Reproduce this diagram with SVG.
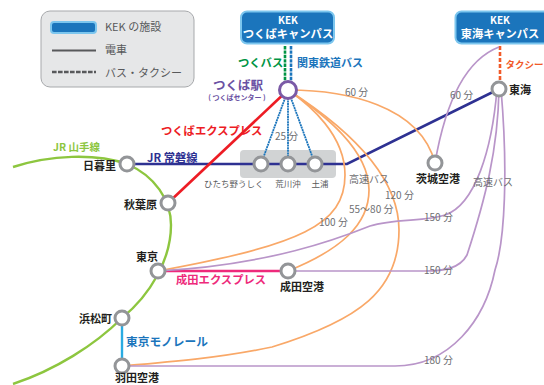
<svg xmlns="http://www.w3.org/2000/svg" width="544" height="385" viewBox="0 0 544 385">
<style>
text{font-family:"Noto Sans CJK JP","Noto Sans",sans-serif}
.st{fill:#fff;stroke:#939598;stroke-width:3}
.o{fill:none;stroke:#f9a868;stroke-width:1.7}
.p{fill:none;stroke:#b995c9;stroke-width:1.7}
.b{fill:none;stroke:#1b75bc;stroke-width:1.8;stroke-dasharray:2 .6}
.t{font-size:10px;fill:#6d6e71}
.s{font-size:8.5px;fill:#58595b}
.n{font-size:11px;font-weight:700;fill:#231f20}
.k{fill:#1b75bc;stroke:#7cc6ee;stroke-width:2}
.w{font-weight:700;fill:#fff;text-anchor:middle}
.l{font-size:11px;fill:#58595b}
</style>
<g id="legend">
<rect x="41" y="11" width="153" height="76" rx="9" fill="#e6e7e8" stroke="#a7a9ac"/>
<rect x="51" y="22" width="45" height="11" rx="3" class="k"/>
<line x1="52" y1="50.500" x2="96" y2="50.500" stroke="#58595b" stroke-width="2"/>
<line x1="52" y1="72" x2="96" y2="72" stroke="#58595b" stroke-width="2.400" stroke-dasharray="4.600 1.400"/>
<text x="105" y="31" class="l">KEK の施設</text>
<text x="105" y="54" class="l">電車</text>
<text x="105" y="77" class="l">バス・タクシー</text>
</g>
<rect id="ekiBand" x="240" y="150" width="96" height="28" rx="4" fill="#d1d3d4"/>
<g id="connectors">
<path d="M13 167C50 155 95 153 127 164C155 176 171 200 171 225C171 260 150 295 122 318C95 345 55 370 13 384" fill="none" stroke="#8dc63f" stroke-width="2.400"/>
<path d="M127 164H347L499 89" fill="none" stroke="#2e3192" stroke-width="2.600"/>
<line x1="168" y1="203" x2="288" y2="90" stroke="#ed1c24" stroke-width="2.600"/>
<line x1="158" y1="271" x2="288" y2="271" stroke="#ee2a7b" stroke-width="2.400"/>
<line x1="122" y1="318" x2="122" y2="366" stroke="#29abe2" stroke-width="2.400"/>
<line x1="285" y1="46" x2="285" y2="82" stroke="#009444" stroke-width="2.600" stroke-dasharray="3.400 1"/>
<line x1="291" y1="46" x2="291" y2="82" stroke="#1b75bc" stroke-width="2.600" stroke-dasharray="3.400 1"/>
<line x1="500" y1="46" x2="500" y2="82" stroke="#f15a29" stroke-width="2.600" stroke-dasharray="4 2"/>
<path class="b" d="M288 90L261 164M288 90V164M288 90L315 164"/>
<path class="o" d="M288 90C345 90 420 105 435 163"/>
<path class="o" d="M288 90C310 105 345 135 345 175C345 225 300 245 158 271"/>
<path class="o" d="M288 90C325 115 369 150 369 190C369 225 340 250 288 271"/>
<path class="o" d="M288 90C335 120 399 170 399 230C399 290 360 320 272 347C220 358 170 362 122 366"/>
<path class="p" d="M499 47C465 60 445 105 435 163"/>
<path class="p" d="M497 89C492 150 475 205 445 215C425 222 395 218 370 226C340 238 270 265 158 271"/>
<path class="p" d="M499 89C498 150 485 200 467 255C460 268 445 271 425 271H288"/>
<path class="p" d="M501 89C508 170 505 240 495 270C485 320 450 366 395 366H122"/>
</g>
<g id="kek-tsukuba"><rect x="241" y="11.500" width="93" height="32" rx="6" class="k"/><text x="288" y="23.500" class="w" font-size="10">KEK</text><text x="288" y="38" class="w" font-size="11.300">つくばキャンパス</text></g>
<g id="kek-tokai"><rect x="455.500" y="11.500" width="96" height="32" rx="6" class="k"/><text x="500" y="23.500" class="w" font-size="10">KEK</text><text x="500" y="38" class="w" font-size="11.200">東海キャンパス</text></g>
<g id="tsukuba"><circle cx="288" cy="90" r="8.500" fill="#fff" stroke="#7b5aa6" stroke-width="3"/><text x="238" y="90" text-anchor="middle" font-size="12.500" font-weight="700" fill="#6a51a3">つくば駅</text><text x="237" y="100" text-anchor="middle" font-size="7" font-weight="700" fill="#6a51a3">( つくばセンター )</text></g>
<g id="tokai"><circle class="st" cx="499" cy="89" r="7"/><text x="509" y="94" class="n">東海</text></g>
<g id="nippori"><circle class="st" cx="127" cy="164" r="7"/><text x="116" y="170" class="n" text-anchor="end">日暮里</text></g>
<g id="akihabara"><circle class="st" cx="168" cy="203" r="7"/><text x="157" y="209" class="n" text-anchor="end">秋葉原</text></g>
<g id="tokyo"><circle class="st" cx="158" cy="271" r="7"/><text x="147" y="261" class="n" text-anchor="middle">東京</text></g>
<g id="hamamatsucho"><circle class="st" cx="122" cy="318" r="7"/><text x="112" y="323" class="n" text-anchor="end">浜松町</text></g>
<g id="haneda"><circle class="st" cx="122" cy="366" r="7"/><text x="137" y="382" class="n" text-anchor="middle">羽田空港</text></g>
<g id="narita"><circle class="st" cx="288" cy="271" r="7"/><text x="302" y="291" class="n" text-anchor="middle">成田空港</text></g>
<g id="ibaraki"><circle class="st" cx="435" cy="163" r="7"/><text x="438" y="183" class="n" text-anchor="middle">茨城空港</text></g>
<g id="hitachino"><circle class="st" cx="261" cy="164" r="7"/><text x="204" y="187" class="s">ひたち野うしく</text></g>
<g id="arakawaoki"><circle class="st" cx="288" cy="164" r="7"/><text x="288" y="187" class="s" text-anchor="middle">荒川沖</text></g>
<g id="tsuchiura"><circle class="st" cx="315" cy="164" r="7"/><text x="320" y="187" class="s" text-anchor="middle">土浦</text></g>
<g id="labels" font-weight="700" font-size="11.300">
<text x="53" y="151" fill="#8dc63f" font-size="10.500">JR 山手線</text>
<text x="147" y="162" fill="#2e3192">JR 常磐線</text>
<text x="161" y="135" fill="#ed1c24">つくばエクスプレス</text>
<text x="176" y="284" fill="#ee2a7b">成田エクスプレス</text>
<text x="126" y="346" fill="#1b75bc" font-size="11.700">東京モノレール</text>
<text x="238" y="67" fill="#009444">つくバス</text>
<text x="297" y="67" fill="#1b75bc" font-size="11">関東鉄道バス</text>
<text x="505.500" y="68" fill="#f15a29" font-size="9.500">タクシー</text>
</g>
<g id="times">
<text x="345" y="96" class="t">60 分</text>
<text x="450" y="99" class="t">60 分</text>
<text x="275" y="140" class="t">25 分</text>
<text x="349" y="183" class="t">高速バス</text>
<text x="473" y="186" class="t">高速バス</text>
<text x="385" y="199" class="t">120 分</text>
<text x="349" y="213" class="t">55～80 分</text>
<text x="319" y="226" class="t">100 分</text>
<text x="424" y="221" class="t">150 分</text>
<text x="424" y="274" class="t">150 分</text>
<text x="424" y="364" class="t">180 分</text>
</g>
</svg>
